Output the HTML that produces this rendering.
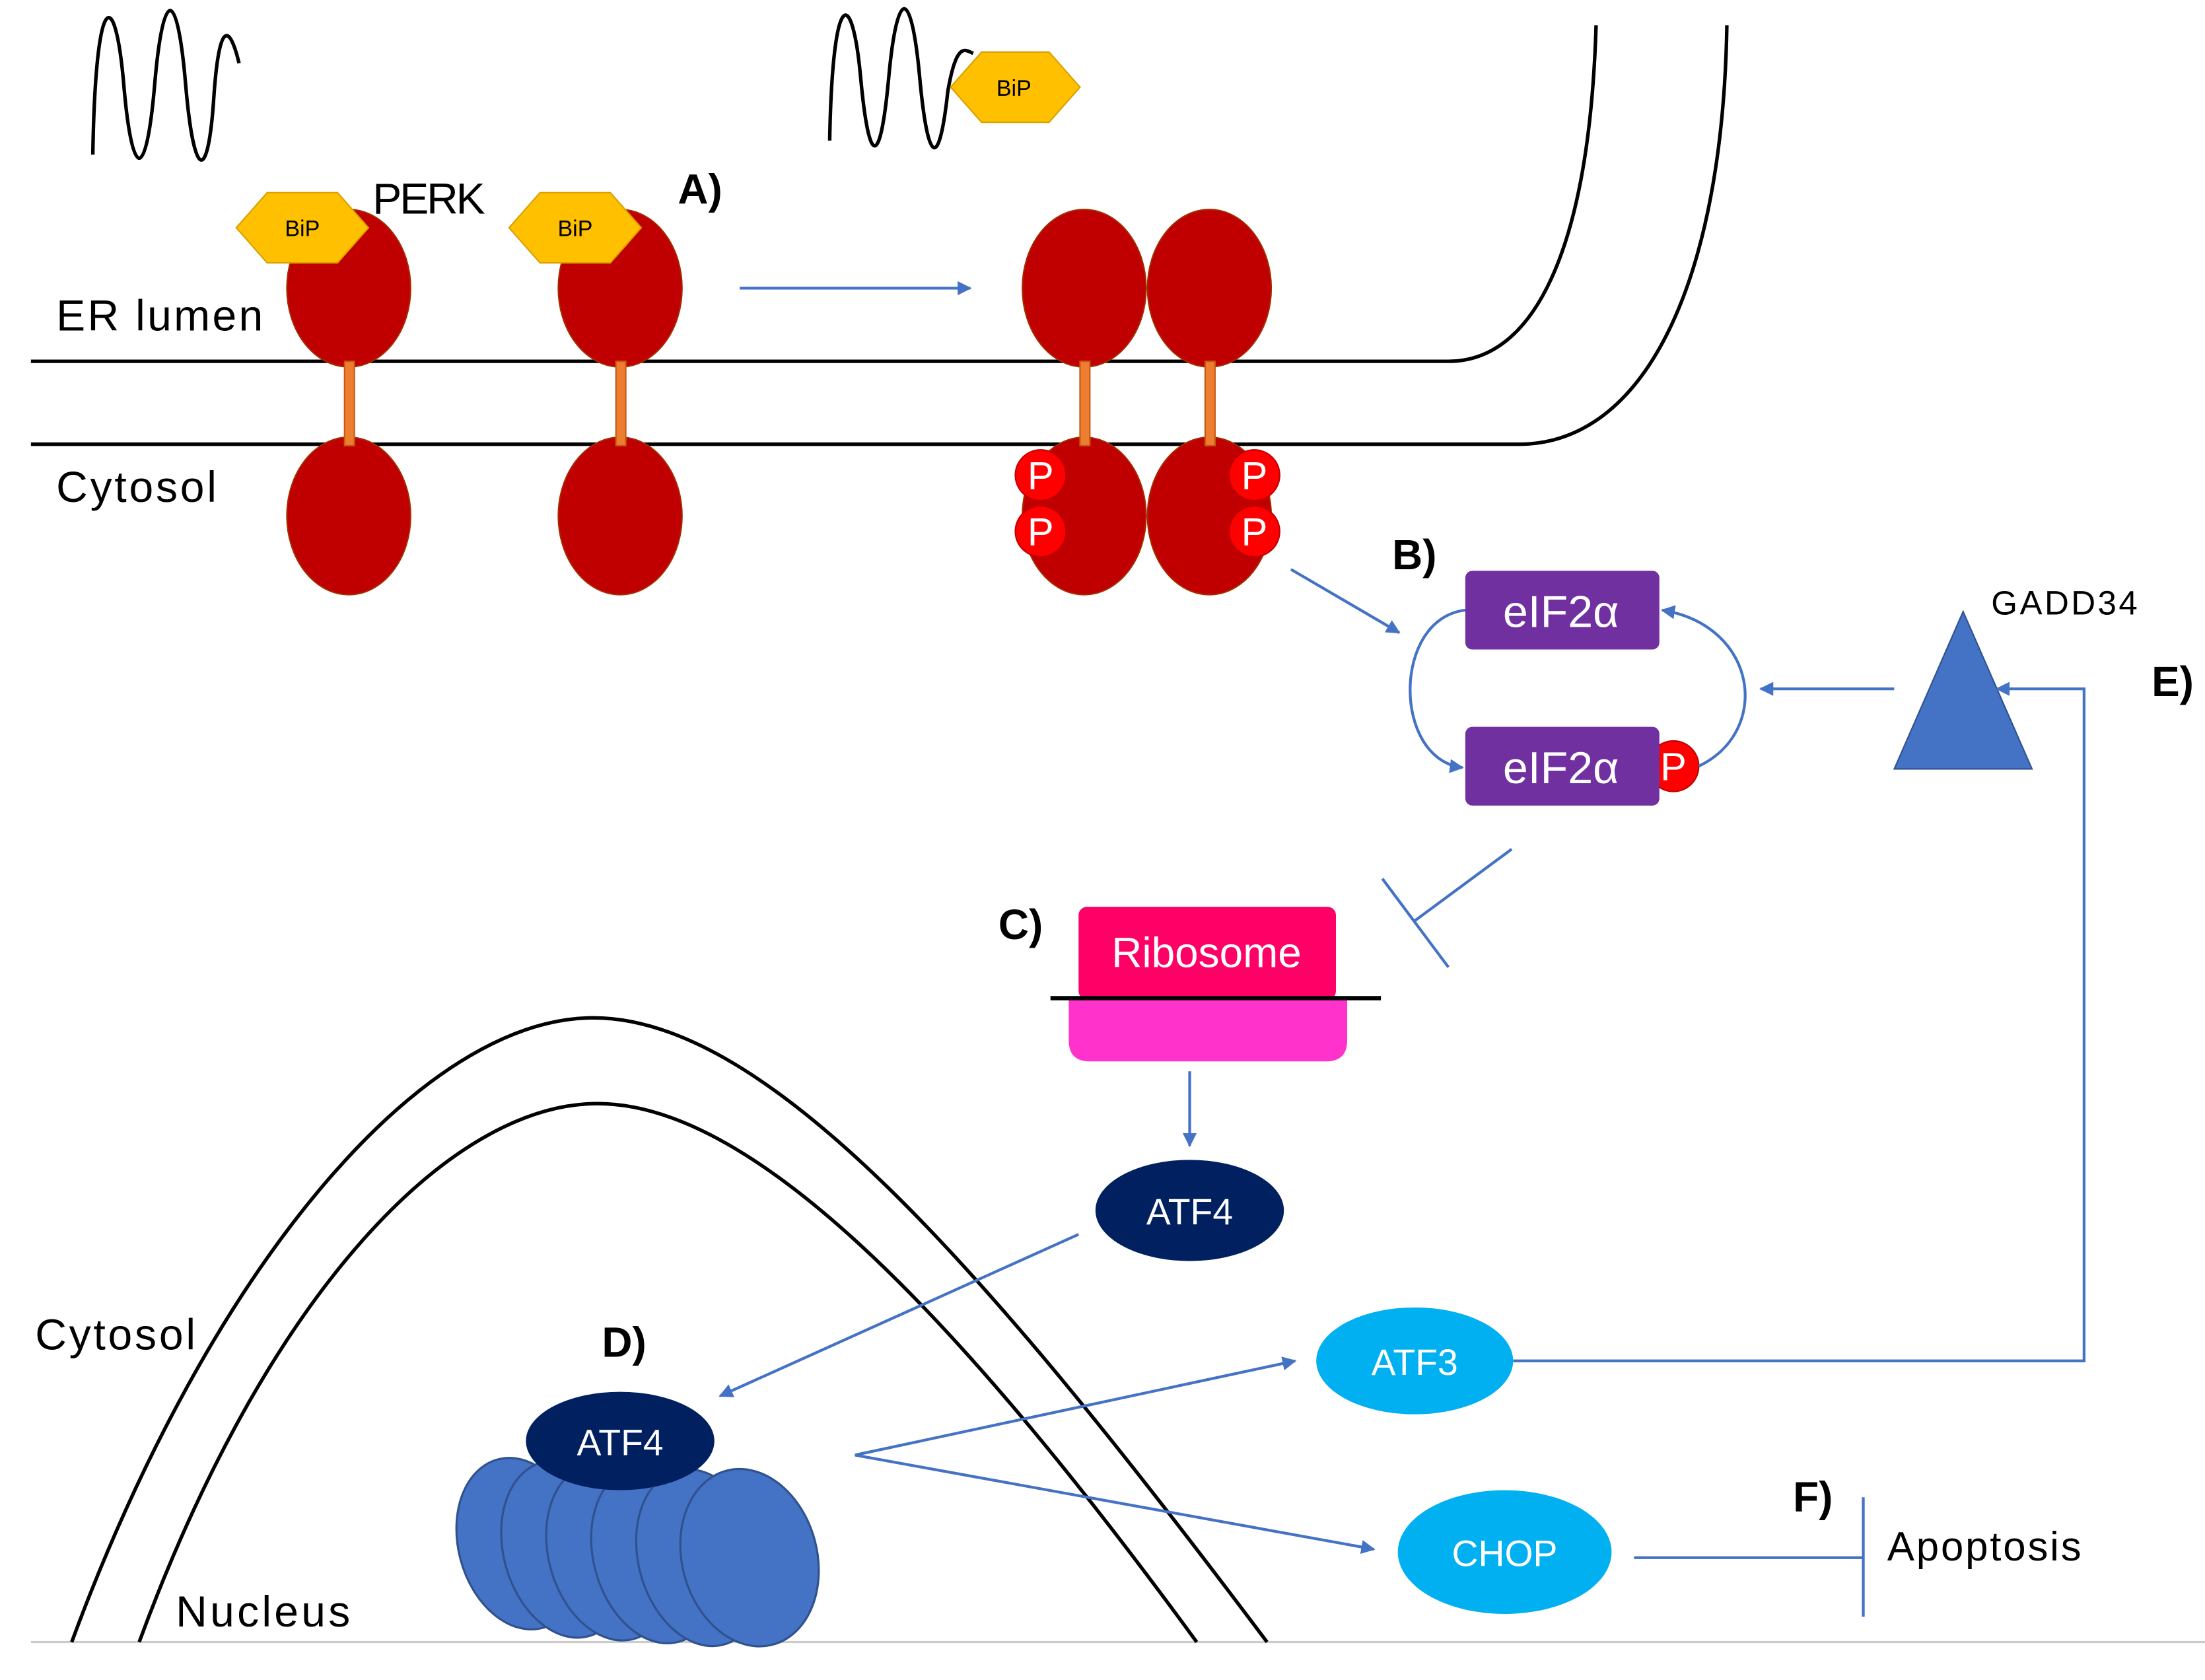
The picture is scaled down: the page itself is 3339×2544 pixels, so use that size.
<!DOCTYPE html>
<html><head><meta charset="utf-8"><style>
html,body{margin:0;padding:0;background:#fff;}
svg{display:block;}
text{font-family:"Liberation Sans",sans-serif;}
</style></head><body>
<svg width="3339" height="2544" viewBox="0 0 1568 1195" preserveAspectRatio="none" xmlns="http://www.w3.org/2000/svg">
<defs>
<marker id="ar" viewBox="0 0 10 10" refX="9" refY="5" markerWidth="5" markerHeight="5" orient="auto"><path d="M0,0 L10,5 L0,10 z" fill="#4472c4"/></marker>
</defs>
<rect width="1568" height="1195" fill="#fff"/>
<line x1="22" y1="1168" x2="1568" y2="1168" stroke="#ccc" stroke-width="1.5"/>
<!-- waves -->
<path d="M66,110 C68,-10 82,-10 88,60 C94,130 104,130 110,60 C116,-10 126,-10 132,60 C138,130 148,130 152,70 C156,10 164,20 170,45" fill="none" stroke="#000" stroke-width="2.5"/>
<path d="M590,100 C592,-10 606,-10 612,55 C618,120 626,120 632,55 C638,-10 648,-10 654,55 C660,120 668,120 674,65 C680,30 686,35 692,38" fill="none" stroke="#000" stroke-width="2.5"/>
<!-- ER membrane -->
<path d="M22,257 L1030,257 C1090,257 1130,180 1135,18" fill="none" stroke="#000" stroke-width="2.5"/>
<path d="M22,316 L1080,316 C1170,316 1225,200 1228,18" fill="none" stroke="#000" stroke-width="2.5"/>
<!-- PERK -->
<g stroke="#a52a00" stroke-width="1" fill="#c00000">
<ellipse cx="248" cy="205" rx="44" ry="56"/><ellipse cx="248" cy="367" rx="44" ry="56"/>
<ellipse cx="441" cy="205" rx="44" ry="56"/><ellipse cx="441" cy="367" rx="44" ry="56"/>
<ellipse cx="771" cy="205" rx="44" ry="56"/><ellipse cx="771" cy="367" rx="44" ry="56"/>
<ellipse cx="860" cy="205" rx="44" ry="56"/><ellipse cx="860" cy="367" rx="44" ry="56"/>
</g>
<g fill="#ed7d31" stroke="#c55a11" stroke-width="1">
<rect x="245" y="257" width="7" height="60"/><rect x="438" y="257" width="7" height="60"/>
<rect x="768" y="257" width="7" height="60"/><rect x="857" y="257" width="7" height="60"/>
</g>
<!-- BiP -->
<g fill="#ffc000" stroke="#d9a000" stroke-width="1">
<polygon points="168,162 190,137 240,137 262,162 240,187 190,187"/>
<polygon points="362,162 384,137 434,137 456,162 434,187 384,187"/>
<polygon points="676,62 698,37 746,37 768,62 746,87 698,87"/>
</g>
<g font-size="16" text-anchor="middle" fill="#000">
<text x="215" y="168">BiP</text><text x="409" y="168">BiP</text><text x="721" y="68">BiP</text>
</g>
<!-- P circles -->
<g fill="#ff0000" stroke="#c00000" stroke-width="1">
<circle cx="740" cy="338" r="18"/><circle cx="740" cy="378" r="18"/>
<circle cx="892" cy="338" r="18"/><circle cx="892" cy="378" r="18"/>
<circle cx="1190" cy="545" r="18"/>
</g>
<g font-size="28" fill="#fff" text-anchor="middle">
<text x="740" y="348">P</text><text x="740" y="388">P</text>
<text x="892" y="348">P</text><text x="892" y="388">P</text>
<text x="1190" y="555">P</text>
</g>
<!-- labels -->
<g font-size="31" fill="#000">
<text x="265" y="152" textLength="80">PERK</text>
<text x="40" y="235" textLength="147">ER lumen</text>
<text x="40" y="357" textLength="114">Cytosol</text>
<text x="25" y="960" textLength="114">Cytosol</text>
<text x="125" y="1157" textLength="124">Nucleus</text>
</g>
<text x="1416" y="437" font-size="24" textLength="104">GADD34</text>
<text x="1342" y="1110" font-size="29" textLength="138">Apoptosis</text>
<g font-size="30" font-weight="bold" fill="#000">
<text x="482" y="145">A)</text><text x="990" y="405">B)</text><text x="710" y="668">C)</text>
<text x="428" y="965">D)</text><text x="1530" y="495">E)</text><text x="1275" y="1075">F)</text>
</g>
<!-- arrow A -->
<line x1="526" y1="205" x2="690" y2="205" stroke="#4472c4" stroke-width="2" marker-end="url(#ar)"/>
<line x1="918" y1="405" x2="995" y2="450" stroke="#4472c4" stroke-width="2" marker-end="url(#ar)"/>
<!-- eIF2a -->
<rect x="1042" y="406" width="138" height="56" rx="5" fill="#7030a0"/>
<rect x="1042" y="517" width="138" height="56" rx="5" fill="#7030a0"/>
<g font-size="32" fill="#fff" text-anchor="middle"><text x="1110" y="446">eIF2α</text><text x="1110" y="557">eIF2α</text></g>
<path d="M1042,434 C990,440 990,540 1040,546" fill="none" stroke="#4472c4" stroke-width="2" marker-end="url(#ar)"/>
<path d="M1208,545 C1260,520 1250,445 1182,434" fill="none" stroke="#4472c4" stroke-width="2" marker-end="url(#ar)"/>
<!-- GADD34 -->
<polygon points="1396,435 1347,547 1445,547" fill="#4472c4" stroke="#2f528f" stroke-width="1"/>
<line x1="1347" y1="490" x2="1252" y2="490" stroke="#4472c4" stroke-width="2" marker-end="url(#ar)"/>
<polyline points="1076,968 1482,968 1482,490 1420,490" fill="none" stroke="#4472c4" stroke-width="2" marker-end="url(#ar)"/>
<!-- inhibit eIF2 -> ribosome -->
<line x1="1075" y1="604" x2="1006" y2="655" stroke="#4472c4" stroke-width="2"/>
<line x1="983" y1="625" x2="1030" y2="688" stroke="#4472c4" stroke-width="2"/>
<!-- ribosome -->
<rect x="767" y="645" width="183" height="66" rx="6" fill="#ff0066"/>
<path d="M760,710 L958,710 L958,740 Q958,755 943,755 L775,755 Q760,755 760,740 Z" fill="#ff33cc"/>
<line x1="747" y1="710" x2="982" y2="710" stroke="#000" stroke-width="3"/>
<text x="858" y="688" font-size="30" fill="#fff" text-anchor="middle">Ribosome</text>
<line x1="846" y1="762" x2="846" y2="815" stroke="#4472c4" stroke-width="2" marker-end="url(#ar)"/>
<!-- nucleus -->
<path d="M51,1168 C150,900 300,724 422,724 C545,724 700,900 901,1168" fill="none" stroke="#000" stroke-width="2.5"/>
<path d="M99,1168 C190,920 320,785 425,785 C530,785 670,920 851,1168" fill="none" stroke="#000" stroke-width="2.5"/>
<!-- nucleosome -->
<g fill="#4472c4" stroke="#2f528f" stroke-width="1.5">
<ellipse cx="370" cy="1098" rx="44" ry="62" transform="rotate(-15 370 1098)"/>
<ellipse cx="402" cy="1102" rx="44" ry="64" transform="rotate(-15 402 1102)"/>
<ellipse cx="434" cy="1104" rx="44" ry="64" transform="rotate(-15 434 1104)"/>
<ellipse cx="466" cy="1106" rx="44" ry="64" transform="rotate(-15 466 1106)"/>
<ellipse cx="498" cy="1108" rx="44" ry="64" transform="rotate(-15 498 1108)"/>
<ellipse cx="533" cy="1108" rx="48" ry="64" transform="rotate(-15 533 1108)"/>
</g>
<!-- ATF4 -->
<ellipse cx="846" cy="861" rx="67" ry="36" fill="#002060"/>
<text x="846" y="871" font-size="26" fill="#fff" text-anchor="middle">ATF4</text>
<line x1="767" y1="878" x2="512" y2="993" stroke="#4472c4" stroke-width="2" marker-end="url(#ar)"/>
<ellipse cx="441" cy="1025" rx="67" ry="35" fill="#002060"/>
<text x="441" y="1035" font-size="26" fill="#fff" text-anchor="middle">ATF4</text>
<!-- branches -->
<line x1="608" y1="1035" x2="921" y2="968" stroke="#4472c4" stroke-width="2" marker-end="url(#ar)"/>
<line x1="608" y1="1035" x2="977" y2="1102" stroke="#4472c4" stroke-width="2" marker-end="url(#ar)"/>
<ellipse cx="1006" cy="968" rx="70" ry="38" fill="#00b0f0"/>
<text x="1006" y="978" font-size="26" fill="#fff" text-anchor="middle">ATF3</text>
<ellipse cx="1070" cy="1104" rx="76" ry="44" fill="#00b0f0"/>
<text x="1070" y="1114" font-size="26" fill="#fff" text-anchor="middle">CHOP</text>
<line x1="1162" y1="1108" x2="1325" y2="1108" stroke="#4472c4" stroke-width="2"/>
<line x1="1325" y1="1065" x2="1325" y2="1150" stroke="#4472c4" stroke-width="2"/>
</svg>
</body></html>
